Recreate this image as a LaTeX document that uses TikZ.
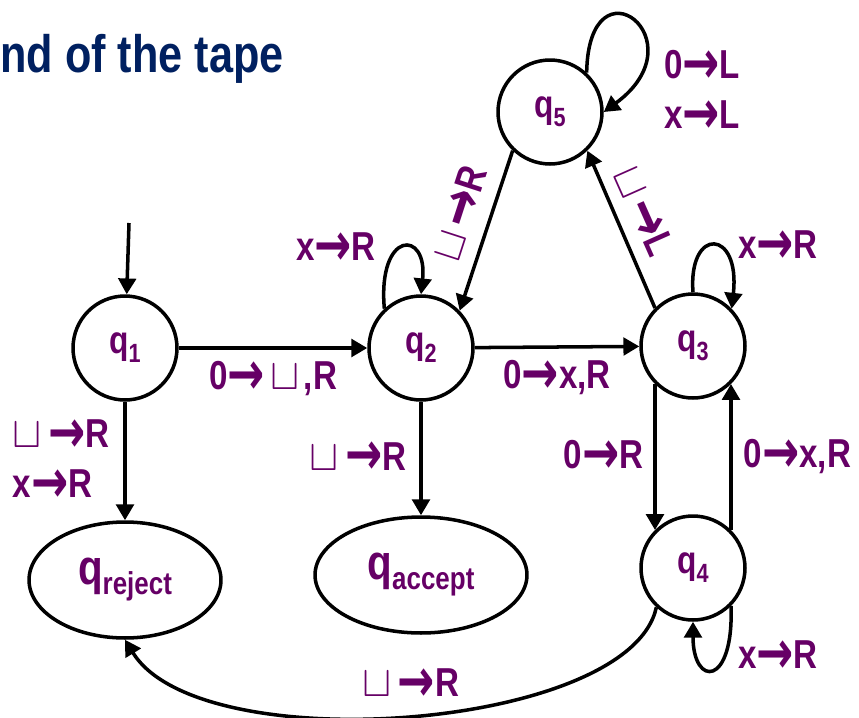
\documentclass[tikz,border=0pt]{standalone}
\usepackage{fontspec}
\setmainfont{Liberation Sans}[FakeStretch=0.82]
\newfontfamily\symfont{DejaVu Sans}
\usepackage{tikz}
\usetikzlibrary{shapes.geometric, arrows.meta, positioning}
\definecolor{mypurple}{RGB}{102,0,102}
\definecolor{mynavy}{RGB}{0,32,96}
\newcommand{\lblfont}{\fontsize{23}{28.5}\selectfont\bfseries}
\newcommand{\bigfont}{\fontsize{28}{32}\selectfont\bfseries}
\newcommand{\qsub}[1]{q\raisebox{-0.18cm}{\fontsize{15}{18}\selectfont #1}}
\newcommand{\qbig}[1]{q\raisebox{-0.2cm}{\fontsize{18}{20}\selectfont #1}}
\newcommand{\ra}{\raisebox{-0.12em}{\scalebox{1.1}[1.5]{\symfont\bfseries →}}}
\newcommand{\blank}{$\sqcup$\hspace{0.12cm}}
\tikzset{
  state/.style={circle, draw, line width=2pt, minimum size=2.08cm,
    inner sep=0pt, font=\fontsize{22}{26}\selectfont\bfseries, text=mypurple},
  halt/.style={ellipse, draw, line width=2pt, inner sep=0pt,
    minimum height=2.32cm, font=\bigfont, text=mypurple},
  arrow/.style={-{Triangle[length=9pt, width=10pt]}, line width=2pt},
  lbl/.style={font=\lblfont, text=mypurple, inner sep=0pt},
  titletext/.style={font=\fontsize{30}{36}\selectfont\bfseries, text=mynavy, inner sep=0pt}
}

\begin{document}
\begin{tikzpicture}[x=0.02cm, y=-0.02cm]
  \useasboundingbox (0,0) rectangle (859,717);
  \node[titletext, anchor=base west] (title) at (0,72) {nd of the tape};

  % states
  \node[state] (q1) at (125,348) {\qsub{1}};
  \node[state] (q2) at (421,348) {\qsub{2}};
  \node[state] (q3) at (693,346) {\qsub{3}};
  \node[state] (q4) at (693,568) {\qsub{4}};
  \node[state] (q5) at (550,112) {\qsub{5}};
  \node[halt, minimum width=3.84cm] (rej) at (125,580) {\qbig{reject}};
  \node[halt, minimum width=4.24cm] (acc) at (421,575) {\qbig{accept}};

  \coordinate (start) at (129,223);
  \draw[arrow] (start) -- (q1);

  % transitions
  \draw[arrow] (q1) -- (q2) node[lbl, midway, below=0.24cm] {0\ra\hspace{0.12cm}$\sqcup$\hspace{0.08cm},R};
  \draw[arrow] (q2) -- (q3) node[lbl, midway, below=0.24cm] {0\ra x,R};
  \draw[arrow] (q1) -- (rej) node[lbl, midway, left=0.28cm, align=left] {\blank\ra R\\x\ra R};
  \draw[arrow] (q2) -- (acc) node[lbl, midway, left=0.26cm] {\blank\ra R};
  \draw[arrow] (q3.-135) -- (q4.135) node[lbl, midway, left=0.2cm] {0\ra R};
  \draw[arrow] (q4.45) -- (q3.-45) node[lbl, midway, right=0.22cm] {0\ra x,R};
  \draw[arrow] (q5.226) -- (q2.44);
  \draw[arrow] (q3.135) -- (q5.-46);
  \node[lbl, rotate=72] (l52) at (462,214) {\blank\ra R};
  \node[lbl, rotate=-66] (l35) at (642,212) {\blank\ra L};

  % loops
  \draw[arrow] (q2.133) .. controls +(-7,-79) and +(7,-65) .. (q2.90);
  \node[lbl] (l22) at (336,249) {x\ra R};
  \draw[arrow] (q3.90) .. controls +(-5,-66) and +(9,-80) .. (q3.44);
  \node[lbl] (l33) at (778,247) {x\ra R};
  \draw[arrow] (q4.-45) .. controls +(3,81) and +(0,66) .. (q4.-90);
  \node[lbl] (l44) at (778,657) {x\ra R};
  \draw[arrow] (q5.47) .. controls +(2,-119) and +(98,-72) .. (q5.0);
  \node[lbl, align=left] (l55) at (702,92) {0\ra L\\x\ra L};

  \draw[arrow] (q4.-133) .. controls (630,730) and (200,762) .. (rej.south);
  \node[lbl] (l4r) at (411,685) {\blank\ra R};
\end{tikzpicture}
\end{document}
